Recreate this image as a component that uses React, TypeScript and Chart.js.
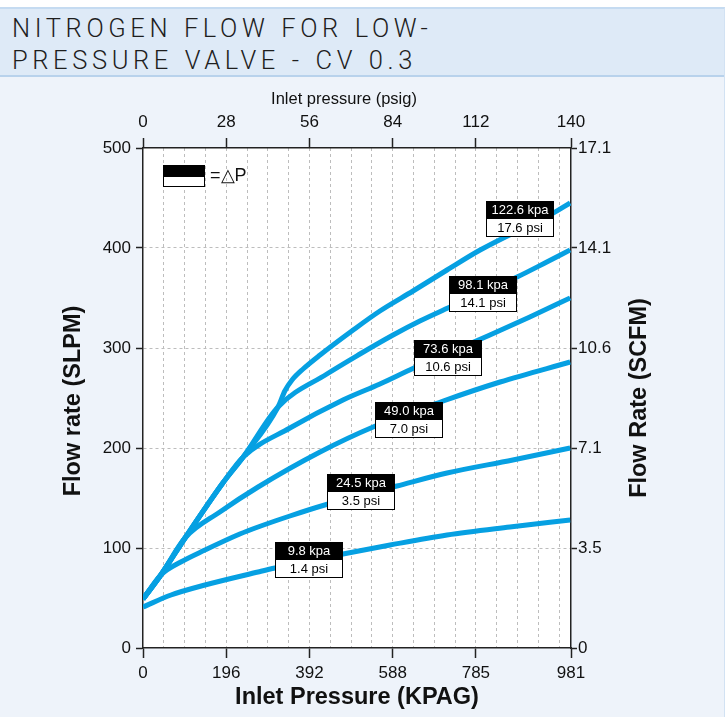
import React, { useEffect, useRef } from 'react';
import { Chart, registerables } from 'chart.js';

Chart.register(...registerables);

// ---------- data ----------
const seriesKpa = ['9.8 kpa', '24.5 kpa', '49.0 kpa', '73.6 kpa', '98.1 kpa', '122.6 kpa'];
const seriesPsi = ['1.4 psi', '3.5 psi', '7.0 psi', '10.6 psi', '14.1 psi', '17.6 psi'];

const kpa_9_8 = [0, 66, 146, 271, 311, 471, 582, 716, 864, 1006];
const slpm_9_8 = [41, 53, 63, 76, 80, 94, 103, 113, 121, 128];

const kpa_24_5 = [0, 42, 89, 146, 228, 271, 346, 428, 598, 716, 871, 1006];
const slpm_24_5 = [49, 73, 86, 98, 114, 121, 132, 143, 162, 175, 188, 200];

const kpa_49_0 = [0, 42, 99, 181, 271, 417, 542, 707, 841, 1006];
const slpm_49_0 = [49, 73, 110, 136, 161, 196, 221, 247, 266, 286];

const kpa_73_6 = [0, 42, 99, 188, 236, 346, 471, 558, 638, 817, 911, 1006];
const slpm_73_6 = [49, 73, 110, 165, 191, 220, 248, 264, 280, 313, 331, 350];

const kpa_98_1 = [0, 42, 99, 188, 236, 318, 433, 511, 589, 652, 718, 881, 951, 1006];
const slpm_98_1 = [49, 73, 110, 165, 191, 241, 274, 294, 313, 327, 340, 371, 386, 398];

const kpa_122_6 = [0, 42, 99, 188, 236, 318, 334, 351, 377, 417, 495, 558, 636, 716, 794, 966, 1006];
const slpm_122_6 = [49, 73, 110, 165, 191, 241, 257, 268, 279, 293, 318, 337, 357, 378, 398, 435, 445];

// label anchors (data coordinates: kPa, SLPM)
const labelKpa = [392, 513, 626, 718, 801, 888];
const labelSlpm = [88, 156, 228, 290, 354, 429];

// axes
const yTicks = [0, 100, 200, 300, 400, 500];
const yRightLabels = ['0', '3.5', '7.1', '10.6', '14.1', '17.1'];
const xMajorTicks = [0, 196, 392, 588, 784, 1008];
const xBottomLabels = ['0', '196', '392', '588', '785', '981'];
const xTopLabels = ['0', '28', '56', '84', '112', '140'];
const xGridStep = 49;
const xMax = 1008;
const yMax = 500;

const LINE_COLOR = '#06a0e2';
const FONT = '"Liberation Sans", Arial, Helvetica, sans-serif';

function pts(xs: number[], ys: number[]) {
  return xs.map((x, i) => ({ x, y: ys[i] }));
}

const gridValues: number[] = [];
for (let v = 0; v <= xMax; v += xGridStep) gridValues.push(v);
gridValues.push(xMax);

const decorPlugin = {
  id: 'decor',
  beforeDraw(chart: any) {
    const { ctx, chartArea } = chart;
    ctx.save();
    ctx.fillStyle = '#ffffff';
    ctx.fillRect(chartArea.left, chartArea.top, chartArea.right - chartArea.left, chartArea.bottom - chartArea.top);
    ctx.restore();
  },
  afterDatasetsDraw(chart: any) {
    const { ctx, chartArea, scales } = chart;
    const xs = scales.x;
    const ys = scales.y;
    ctx.save();
    const w = 68;
    const h = 18;
    for (let i = 0; i < labelKpa.length; i++) {
      const cx = Math.round(xs.getPixelForValue(labelKpa[i]));
      const cy = Math.round(ys.getPixelForValue(labelSlpm[i]));
      ctx.fillStyle = '#000';
      ctx.fillRect(cx - w / 2, cy - h, w, h);
      ctx.fillStyle = '#fff';
      ctx.fillRect(cx - w / 2, cy, w, h);
      ctx.strokeStyle = '#000';
      ctx.lineWidth = 1;
      ctx.strokeRect(cx - w / 2 + 0.5, cy - h + 0.5, w - 1, 2 * h - 1);
      ctx.font = `13px ${FONT}`;
      ctx.textAlign = 'center';
      ctx.textBaseline = 'middle';
      ctx.fillStyle = '#fff';
      ctx.fillText(seriesKpa[i], cx, cy - h / 2 + 0.5);
      ctx.fillStyle = '#000';
      ctx.fillText(seriesPsi[i], cx, cy + h / 2 + 0.5);
    }
    // legend key
    const lx = chartArea.left + 20;
    const ly = chartArea.top + 17;
    ctx.fillStyle = '#000';
    ctx.fillRect(lx, ly, 42, 12);
    ctx.fillStyle = '#fff';
    ctx.fillRect(lx, ly + 12, 42, 10);
    ctx.strokeStyle = '#000';
    ctx.lineWidth = 1;
    ctx.strokeRect(lx + 0.5, ly + 0.5, 41, 21);
    ctx.font = `18px ${FONT}`;
    ctx.textAlign = 'left';
    ctx.textBaseline = 'middle';
    ctx.fillStyle = '#111';
    ctx.fillText('=\u25B3P', lx + 47, ly + 11);
    ctx.restore();
  },
  afterDraw(chart: any) {
    const { ctx, chartArea } = chart;
    ctx.save();
    ctx.fillStyle = '#111';
    ctx.textAlign = 'center';
    ctx.textBaseline = 'middle';
    const midY = (chartArea.top + chartArea.bottom) / 2;
    ctx.font = `bold 23.5px ${FONT}`;
    ctx.save();
    ctx.translate(74, midY + 3);
    ctx.rotate(-Math.PI / 2);
    ctx.fillText('Flow rate (SLPM)', 0, 0);
    ctx.restore();
    ctx.save();
    ctx.translate(640, midY);
    ctx.rotate(-Math.PI / 2);
    ctx.fillText('Flow Rate (SCFM)', 0, 0);
    ctx.restore();
    ctx.fillText('Inlet Pressure (KPAG)', (chartArea.left + chartArea.right) / 2, chartArea.bottom + 50);
    ctx.font = `16.5px ${FONT}`;
    ctx.fillText('Inlet pressure (psig)', 344, chartArea.top - 49);
    ctx.restore();
  },
};

export default function App() {
  const ref = useRef<HTMLCanvasElement>(null);

  useEffect(() => {
    if (!ref.current) return;
    const mkDs = (label: string, xs: number[], ys: number[]) => ({
      label,
      data: pts(xs, ys),
      borderColor: LINE_COLOR,
      backgroundColor: LINE_COLOR,
      borderWidth: 5,
      pointRadius: 0,
      cubicInterpolationMode: 'monotone' as const,
      fill: false,
      borderCapStyle: 'butt' as const,
      borderJoinStyle: 'round' as const,
      xAxisID: 'x',
      yAxisID: 'y',
    });
    const tickCol = (ctx: any) =>
      ctx.tick && xMajorTicks.includes(ctx.tick.value) ? '#222' : 'rgba(0,0,0,0)';
    const xGridCol = (ctx: any) =>
      ctx.tick && (ctx.tick.value === 0 || ctx.tick.value === xMax) ? 'rgba(0,0,0,0)' : '#bdbdbd';
    const yGridCol = (ctx: any) =>
      ctx.tick && (ctx.tick.value === 0 || ctx.tick.value === yMax) ? 'rgba(0,0,0,0)' : '#bdbdbd';

    const chart = new Chart(ref.current, {
      type: 'line',
      data: {
        datasets: [
          mkDs(seriesKpa[0], kpa_9_8, slpm_9_8),
          mkDs(seriesKpa[1], kpa_24_5, slpm_24_5),
          mkDs(seriesKpa[2], kpa_49_0, slpm_49_0),
          mkDs(seriesKpa[3], kpa_73_6, slpm_73_6),
          mkDs(seriesKpa[4], kpa_98_1, slpm_98_1),
          mkDs(seriesKpa[5], kpa_122_6, slpm_122_6),
        ],
      },
      options: {
        responsive: false,
        animation: false,
        devicePixelRatio: 1,
        layout: { padding: 0 },
        plugins: { legend: { display: false }, tooltip: { enabled: false } },
        scales: {
          x: {
            type: 'linear',
            position: 'bottom',
            min: 0,
            max: xMax,
            afterBuildTicks: (s: any) => {
              s.ticks = gridValues.map((v) => ({ value: v }));
            },
            afterFit: (s: any) => {
              s.height = 69;
            },
            ticks: {
              autoSkip: false,
              maxRotation: 0,
              padding: 5,
              color: '#111',
              font: { family: FONT, size: 17 },
              callback: (v: any) => {
                const i = xMajorTicks.indexOf(Number(v));
                return i >= 0 ? xBottomLabels[i] : '';
              },
            },
            grid: {
              color: xGridCol,
              lineWidth: 1,
              tickLength: 10,
              tickColor: tickCol,
              tickWidth: 1.5,
              tickBorderDash: [],
            },
            border: { display: true, color: '#222', width: 1.5, dash: [3, 3] },
          },
          x2: {
            type: 'linear',
            position: 'top',
            min: 0,
            max: xMax,
            afterBuildTicks: (s: any) => {
              s.ticks = gridValues.map((v) => ({ value: v }));
            },
            afterFit: (s: any) => {
              s.height = 68;
            },
            ticks: {
              autoSkip: false,
              maxRotation: 0,
              padding: 5,
              color: '#111',
              font: { family: FONT, size: 17 },
              callback: (v: any) => {
                const i = xMajorTicks.indexOf(Number(v));
                return i >= 0 ? xTopLabels[i] : '';
              },
            },
            grid: {
              drawOnChartArea: false,
              tickLength: 10,
              tickColor: tickCol,
              tickWidth: 1.5,
              tickBorderDash: [],
            },
            border: { display: true, color: '#222', width: 1.5 },
          },
          y: {
            type: 'linear',
            position: 'left',
            min: 0,
            max: yMax,
            afterBuildTicks: (s: any) => {
              s.ticks = yTicks.map((v) => ({ value: v }));
            },
            afterFit: (s: any) => {
              s.width = 143;
            },
            ticks: {
              padding: 5,
              color: '#111',
              font: { family: FONT, size: 17 },
              callback: (v: any) => String(v),
            },
            grid: {
              color: yGridCol,
              lineWidth: 1,
              tickLength: 7,
              tickColor: '#222',
              tickWidth: 1.5,
              tickBorderDash: [],
            },
            border: { display: true, color: '#222', width: 1.5, dash: [3, 3] },
          },
          y2: {
            type: 'linear',
            position: 'right',
            min: 0,
            max: yMax,
            afterBuildTicks: (s: any) => {
              s.ticks = yTicks.map((v) => ({ value: v }));
            },
            afterFit: (s: any) => {
              s.width = 157;
            },
            ticks: {
              padding: 1,
              color: '#111',
              font: { family: FONT, size: 17 },
              callback: (v: any) => {
                const i = yTicks.indexOf(Number(v));
                return i >= 0 ? yRightLabels[i] : '';
              },
            },
            grid: {
              drawOnChartArea: false,
              tickLength: 6,
              tickColor: '#222',
              tickWidth: 1.5,
              tickBorderDash: [],
            },
            border: { display: true, color: '#222', width: 1.5 },
          },
        },
      },
      plugins: [decorPlugin],
    } as any);
    return () => chart.destroy();
  }, []);

  return (
    <div style={{ position: 'absolute', left: 0, top: 0, width: 728, height: 717, background: '#ffffff', overflow: 'hidden' }}>
      <div
        style={{
          position: 'absolute',
          left: 0,
          top: 7,
          width: 725,
          height: 710,
          background: '#eef3fa',
          borderTop: '2px solid #c5dbf1',
          borderRight: '1px solid #d2e2f3',
          boxSizing: 'border-box',
        }}
      />
      <div
        style={{
          position: 'absolute',
          left: 0,
          top: 9,
          width: 724,
          height: 68,
          background: '#deeaf7',
          borderBottom: '2px solid #b8d2ec',
          boxSizing: 'border-box',
        }}
      />
      <div
        style={{
          position: 'absolute',
          left: 12,
          top: 12,
          fontFamily: 'Roboto, "Open Sans", sans-serif',
          fontWeight: 300,
          fontSize: 25.5,
          lineHeight: '32px',
          letterSpacing: '4.6px',
          wordSpacing: '1px',
          color: '#1e1e1e',
          whiteSpace: 'nowrap',
        }}
      >
        NITROGEN FLOW FOR LOW-
        <br />
        PRESSURE VALVE - CV 0.3
      </div>
      <canvas
        ref={ref}
        width={728}
        height={637}
        style={{ position: 'absolute', left: 0, top: 80, width: 728, height: 637 }}
      />
    </div>
  );
}
